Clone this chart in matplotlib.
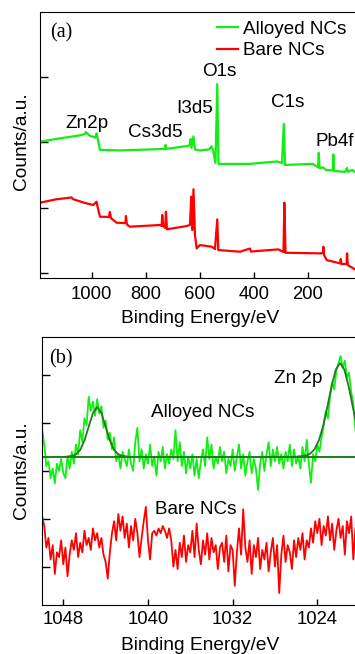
import numpy as np
import matplotlib
matplotlib.use("Agg")
import matplotlib.pyplot as plt

plt.rcParams['font.family'] = ['Liberation Sans', 'DejaVu Sans']

# ---- panel (a): survey spectra (binding energy eV, counts a.u.) ----
alloy_a_ev = [1191.5, 1117.4, 1043.3, 1023.0, 1021.5, 1006.3, 986.0, 981.5, 978.5,
              969.2, 895.2, 784.0, 727.4, 725.9, 723.7, 643.3, 636.0, 633.3, 630.4,
              623.0, 617.4, 598.9, 565.5, 556.3, 550.7, 541.5, 534.8, 530.4, 413.7,
              313.7, 295.2, 288.5, 284.0, 180.3, 161.8, 159.2, 156.3, 143.3, 132.2,
              107.5, 105.2, 102.6, 61.8, 54.4, 50.7, 36.0, 24.8]
alloy_a_cts = [2.012, 2.061, 2.108, 2.131, 2.16, 2.10, 2.077, 2.138, 2.084,
               1.885, 1.877, 1.892, 1.90, 1.962, 1.90, 1.946, 1.962, 2.054, 1.916,
               2.092, 1.892, 1.877, 1.892, 1.939, 1.885, 1.685, 2.894, 1.67, 1.67,
               1.708, 1.685, 2.284, 1.654, 1.67, 1.616, 1.839, 1.608, 1.616, 1.578,
               1.57, 1.816, 1.562, 1.547, 1.608, 1.547, 1.578, 1.547]

bare_a_ev = [1191.5, 1129.6, 1074.0, 1068.1, 1024.8, 994.0, 981.5, 978.5, 969.0,
             936.0, 932.2, 928.5, 907.4, 874.8, 873.0, 869.2, 858.0, 747.0, 740.7,
             738.5, 734.8, 727.4, 724.8, 721.1, 648.1, 636.0, 631.1, 627.4, 622.9,
             617.4, 611.1, 598.9, 555.5, 543.3, 534.8, 531.1, 450.7, 413.7, 410.0,
             308.9, 289.6, 286.6, 282.2, 154.4, 143.3, 142.2, 139.6, 129.6, 80.3,
             77.8, 74.8, 56.3, 54.4, 51.5, 24.8]
bare_a_cts = [1.075, 1.128, 1.155, 1.128, 1.071, 1.04, 1.09, 1.025, 0.86,
              0.856, 0.932, 0.84, 0.768, 0.763, 0.871, 0.74, 0.707, 0.733, 0.717,
              0.886, 0.717, 0.687, 0.937, 0.667, 0.717, 0.733, 1.167, 0.656, 1.281,
              0.579, 0.375, 0.425, 0.40, 0.364, 0.82, 0.349, 0.323, 0.372, 0.326,
              0.359, 0.318, 1.075, 0.307, 0.298, 0.303, 0.40, 0.272, 0.195, 0.144,
              0.21, 0.134, 0.134, 0.298, 0.118, 0.052]

# ---- panel (b): Zn 2p region ----
e_start, e_step, n_pts = 1050.0, 0.2, 149
energy_b = np.round(e_start - e_step * np.arange(n_pts), 1)

alloy_b = [2.85, 2.55, 2.10, 2.20, 1.85, 2.05, 1.74, 2.15, 2.00, 2.25,
           1.95, 1.85, 2.30, 2.05, 2.40, 2.15, 2.55, 2.35, 2.85, 2.60,
           3.10, 2.95, 3.55, 3.25, 3.45, 3.15, 3.50, 3.20, 3.35, 2.90,
           3.05, 2.65, 2.80, 2.45, 2.70, 2.20, 2.35, 2.05, 2.40, 2.25,
           2.10, 2.45, 2.15, 2.00, 2.60, 2.90, 2.20, 2.45, 2.05, 2.35,
           2.15, 2.55, 2.10, 2.30, 1.90, 2.40, 2.20, 2.50, 2.05, 2.35,
           2.15, 2.45, 2.25, 2.85, 2.20, 2.60, 2.10, 2.40, 1.95, 2.30,
           2.05, 2.35, 1.90, 2.25, 1.85, 2.20, 2.45, 2.10, 2.70, 2.25,
           2.55, 2.05, 2.30, 2.15, 2.50, 2.20, 2.40, 1.95, 2.25, 2.10,
           2.45, 2.00, 2.30, 2.55, 2.05, 2.35, 1.90, 2.20, 2.40, 1.95,
           2.25, 2.05, 1.60, 2.15, 2.40, 2.00, 2.35, 2.60, 2.10, 2.45,
           2.20, 2.50, 2.15, 2.35, 2.05, 2.40, 2.20, 2.55, 2.10, 2.45,
           2.15, 2.30, 2.05, 2.50, 2.20, 2.65, 2.15, 1.75, 2.35, 2.20,
           2.55, 2.40, 2.70, 2.95, 3.25, 3.10, 3.55, 3.85, 3.70, 4.10,
           4.25, 4.40, 4.15, 4.30, 3.95, 4.05, 3.65, 3.40, 2.85]

bare_b = [1.05, 0.85, 0.40, 0.60, 0.15, 0.45, -0.15, 0.30, 0.20, 0.55,
          0.05, 0.40, -0.20, 0.25, 0.55, 0.35, 0.70, 0.20, 0.50, 0.30,
          0.75, 0.45, 0.60, 0.35, 0.80, 0.55, 0.70, 0.40, 0.60, 0.25,
          0.10, -0.25, 0.30, 0.70, 0.95, 0.55, 1.10, 0.75, 1.05, 0.60,
          0.90, 0.40, 0.85, 0.55, 1.00, 0.70, 0.20, 0.60, 0.95, 1.25,
          0.55, 0.15, 0.70, 0.75, 0.65, 0.80, 0.70, 0.85, 0.75, 0.60,
          0.80, 0.55, 0.00, 0.35, -0.05, 0.50, 0.20, 0.65, 0.10, 0.45,
          0.30, 0.75, 0.20, 0.90, 0.35, 0.05, 0.55, 0.25, 0.70, 0.15,
          0.60, 0.30, 0.45, -0.05, 0.40, 0.50, 0.10, 0.65, -0.10, 0.45,
          0.35, -0.40, 0.30, 0.80, 0.25, 1.20, 0.40, 0.10, 0.55, -0.15,
          0.45, 0.20, 0.60, -0.05, 0.35, 0.15, 0.50, -0.10, 0.30, 0.60,
          0.00, 0.45, -0.55, 0.25, 0.65, 0.10, 0.45, 0.30, -0.05, 0.55,
          0.20, 0.60, 0.35, 0.70, 0.15, 0.55, 0.40, 0.80, 0.50, 0.95,
          0.70, 1.00, 0.45, 0.85, 0.65, 1.05, 0.55, 0.90, 0.35, 0.75,
          1.00, 0.60, 0.85, 0.25, 0.95, 0.70, 1.05, 0.15, 0.80]

# fitted Zn 2p components
baseline_b = 2.30
fit1_ev = [1047.6, 1047.2, 1046.8, 1046.4, 1046.0, 1045.6, 1045.2, 1044.8,
           1044.4, 1044.0, 1043.6, 1043.2, 1042.8, 1042.4, 1042.0]
fit1_cts = [2.302, 2.311, 2.345, 2.439, 2.634, 2.925, 3.209, 3.33,
            3.209, 2.925, 2.634, 2.439, 2.345, 2.311, 2.302]
fit2_ev = [1025.85, 1025.45, 1025.05, 1024.65, 1024.25, 1023.85, 1023.45,
           1023.05, 1022.65, 1022.25, 1021.85, 1021.45, 1021.05, 1020.65, 1020.25]
fit2_cts = [2.302, 2.307, 2.322, 2.364, 2.458, 2.640, 2.938,
            3.339, 3.774, 4.118, 4.25, 4.118, 3.774, 3.339, 2.938]

green = '#11ee11'
red = '#ff0000'
fit_green = '#1b7d1b'
txt_size = 13.6

fig = plt.figure(figsize=(3.55, 6.54), dpi=100)

# ------------------ (a) ------------------
ax1 = fig.add_axes([40 / 355, 1 - 278 / 654, 1 - 40 / 355, 266 / 654])
ax1.plot(alloy_a_ev, alloy_a_cts, color=green, lw=1.6, label='Alloyed NCs')
ax1.plot(bare_a_ev, bare_a_cts, color=red, lw=1.6, label='Bare NCs')
ax1.set_xlim(1191, 25)
ax1.set_ylim(-0.08, 4.0)
ax1.set_xticks([1000, 800, 600, 400, 200])
ax1.set_yticks([0, 1, 2, 3])
ax1.set_yticklabels([])
ax1.tick_params(axis='x', direction='in', length=4.5, width=1, pad=5.5, labelsize=13.3)
ax1.tick_params(axis='y', direction='in', length=5.5, width=1)
ax1.spines['right'].set_visible(False)

peaks_a = ['Zn2p', 'Cs3d5', 'I3d5', 'O1s', 'C1s', 'Pb4f']
peaks_a_pos = [(1018.5, 2.218), (763.7, 2.08), (617.4, 2.448),
               (527.4, 3.022), (275.5, 2.541), (98.9, 1.951)]
for name, (px, py) in zip(peaks_a, peaks_a_pos):
    ax1.text(px, py, name, ha='center', va='baseline', fontsize=txt_size)

ax1.text(1113.7, 3.61, '(a)', ha='center', va='baseline', fontsize=14.5,
         family=['Liberation Serif', 'DejaVu Serif'])

ax1.legend(loc='upper left', bbox_to_anchor=(0.562, 0.967), frameon=False,
           fontsize=txt_size, handlelength=1.12, handletextpad=0.28,
           labelspacing=0.22, borderpad=0, borderaxespad=0)

# ------------------ (b) ------------------
ax2 = fig.add_axes([41.7 / 355, 1 - 605 / 654, 1 - 41.7 / 355, 267.7 / 654])
ax2.plot(energy_b, alloy_b, color=green, lw=1.3)
ax2.plot(energy_b, bare_b, color=red, lw=1.3)
ax2.axhline(baseline_b, color=fit_green, lw=1.4)
ax2.plot(fit1_ev, fit1_cts, color=fit_green, lw=1.3)
ax2.plot(fit2_ev, fit2_cts, color=fit_green, lw=1.3)
ax2.set_xlim(1050.04, 1020.44)
ax2.set_ylim(-0.8, 4.79)
ax2.set_xticks([1048, 1040, 1032, 1024])
ax2.set_yticks([0, 1, 2, 3, 4])
ax2.set_yticklabels([])
ax2.tick_params(axis='x', direction='in', length=4.5, width=1, pad=4.5, labelsize=13.3)
ax2.tick_params(axis='y', direction='in', length=5.5, width=1)
ax2.spines['right'].set_visible(False)

ax2.text(1025.8, 3.84, 'Zn 2p', ha='center', va='baseline', fontsize=txt_size)
ax2.text(1034.87, 3.13, 'Alloyed NCs', ha='center', va='baseline', fontsize=txt_size)
ax2.text(1035.44, 1.10, 'Bare NCs', ha='center', va='baseline', fontsize=txt_size)
ax2.text(1048.2, 4.25, '(b)', ha='center', va='baseline', fontsize=14.5,
         family=['Liberation Serif', 'DejaVu Serif'])

# axis labels
for yc, yb in [(1 - 141 / 654, 1 - 323 / 654), (1 - 470 / 654, 1 - 650.5 / 654)]:
    fig.text(22 / 355, yc, 'Counts/a.u.', rotation=90, ha='center', va='center',
             fontsize=13.8)
    fig.text(200 / 355, yb, 'Binding Energy/eV', ha='center', va='baseline',
             fontsize=13.8)

fig.savefig('out.png', dpi=100)
